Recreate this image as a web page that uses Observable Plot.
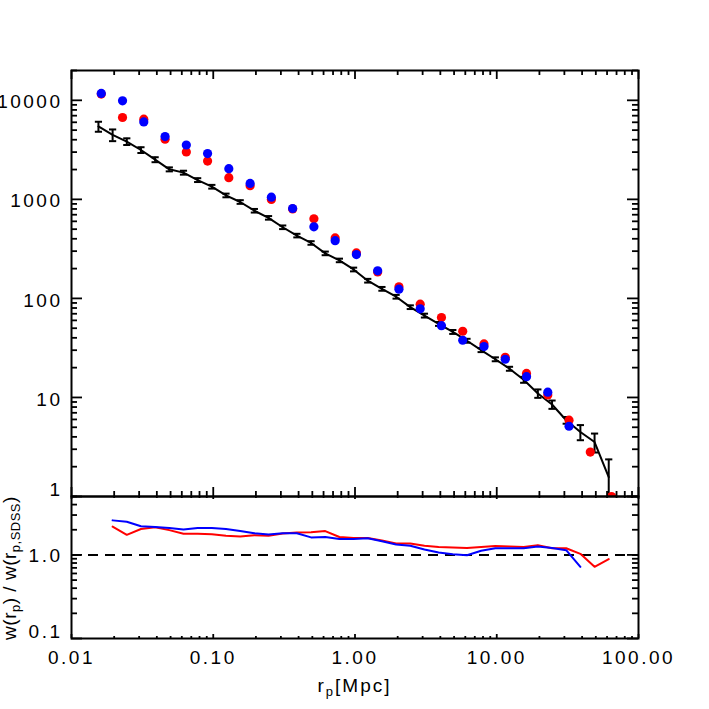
<!DOCTYPE html>
<html>
<head>
<meta charset="utf-8">
<script src="https://cdn.jsdelivr.net/npm/d3@7"></script>
<script src="https://cdn.jsdelivr.net/npm/@observablehq/plot@0.6"></script>
<style>
  html, body { margin: 0; padding: 0; background: white; }
  #wrap { position: relative; width: 709px; height: 709px; overflow: hidden; font-family: "Liberation Sans", Arial, sans-serif; }
  #wrap svg { position: absolute; left: 0; }
  #wrap svg text { letter-spacing: 2.5px; }
  .lab { position: absolute; font-size: 19px; line-height: 20px; white-space: nowrap; color: black; }
  .lab .s { font-size: 13px; position: relative; top: 4px; }
</style>
</head>
<body>
<div id="wrap"></div>
<script>
// ---- data ----
// SDSS reference w_p(r_p): black line with error bars
const rpSDSS = [0.01549, 0.01950, 0.02455, 0.03090, 0.03890, 0.04898, 0.06166, 0.07762, 0.09772,
  0.1230, 0.1549, 0.1950, 0.2455, 0.3090, 0.3890, 0.4898, 0.6166, 0.7762, 0.9772,
  1.230, 1.549, 1.950, 2.455, 3.090, 3.890, 4.898, 6.166, 7.762, 9.772,
  12.30, 15.49, 19.50, 24.55, 30.90, 38.90, 48.98, 61.66];
const wpSDSS = [5445, 4475, 3835, 3150, 2518, 2010, 1861, 1566, 1342,
  1096, 941, 768, 651, 523, 431, 363, 285, 242, 196,
  151, 125, 104, 81.6, 67.1, 55.3, 45.9, 37.4, 30.1, 24.3,
  19.5, 15.1, 10.98, 8.49, 5.89, 4.48, 3.55, 1.57];
const errSDSS = [630, 605, 298, 210, 145, 93, 85, 70, 58,
  47, 40, 32, 27, 22, 18, 15, 12, 10, 8.5,
  6.5, 5.5, 4.5, 3.5, 3.0, 2.5, 2.1, 1.7, 1.4, 1.1,
  0.9, 1.04, 1.07, 0.82, 0.46, 0.78, 0.77, 0.8];

// model samples (red and blue dots)
const rpModel = [0.01622, 0.02291, 0.03236, 0.04571, 0.06457, 0.09120, 0.1288, 0.1820, 0.2570,
  0.3631, 0.5129, 0.7244, 1.023, 1.445, 2.042, 2.884, 4.074, 5.754, 8.128,
  11.48, 16.22, 22.91, 32.36, 45.71, 64.57];
const wpRed = [11560, 6710, 6450, 4045, 3007, 2438, 1656, 1374, 997,
  800, 636, 408, 288, 185, 131, 87.5, 64.1, 46.6, 34.7,
  25.4, 17.5, 10.6, 5.89, 2.81, 1.0];
const wpBlue = [11750, 9885, 6055, 4306, 3540, 2897, 2042, 1449, 1052,
  809, 528, 383, 277, 190, 124, 78.5, 53.1, 37.8, 32.6,
  24.3, 16.2, 11.3, 5.12];

// ratio w(r_p)/w(r_p,SDSS) sampled at rpSDSS (starting at the 2nd bin)
const ratioRed = [2.18, 1.74, 2.04, 2.14, 1.98, 1.79, 1.79, 1.77,
  1.70, 1.66, 1.72, 1.69, 1.80, 1.86, 1.87, 1.93, 1.64, 1.59,
  1.59, 1.49, 1.37, 1.37, 1.29, 1.24, 1.23, 1.21, 1.24, 1.28,
  1.26, 1.24, 1.31, 1.20, 1.20, 1.03, 0.72, 0.89];
const ratioBlue = [2.59, 2.49, 2.20, 2.16, 2.10, 2.02, 2.10, 2.10,
  2.04, 1.93, 1.82, 1.75, 1.82, 1.82, 1.62, 1.64, 1.55, 1.55,
  1.58, 1.46, 1.33, 1.29, 1.16, 1.07, 1.02, 0.99, 1.12, 1.20,
  1.20, 1.20, 1.26, 1.21, 1.14, 0.72];

// tick labels
const xTickVals = [0.01, 0.1, 1, 10, 100];
const xTickText = ["0.01", "0.10", "1.00", "10.00", "100.00"];
const yTopVals = [10, 100, 1000, 10000];
const yTopText = ["10", "100", "1000", "10000"];
const yTopBottomVal = [1];
const yTopBottomText = ["1"];
const yBotVals = [1];
const yBotText = ["1.0"];
const yBotBottomVal = [0.1];
const yBotBottomText = ["0.1"];

// ---- build tables ----
const sdss = rpSDSS.map((x, i) => ({x, y: wpSDSS[i], e: errSDSS[i]}));
const red = wpRed.map((y, i) => ({x: rpModel[i], y}));
const blue = wpBlue.map((y, i) => ({x: rpModel[i], y}));
const rRed = ratioRed.map((y, i) => ({x: rpSDSS[i + 1], y}));
const rBlue = ratioBlue.map((y, i) => ({x: rpSDSS[i + 1], y}));

// tick positions (axis decoration)
const minorOf = (decades, max) => decades.flatMap(d => d3.range(2, 10).map(k => k * d)).filter(v => v <= max * 1.0001);
const xMajor = xTickVals;
const xMinor = minorOf([0.01, 0.1, 1, 10], 100);
const yTopMajor = [1, 10, 100, 1000, 10000];
const yTopMinor = minorOf([1, 10, 100, 1000, 10000], 20000);
const yBotMajor = [0.1, 1];
const yBotMinor = minorOf([0.1, 1], 5);

const W = 709, ML = 71, MR = 71;
const PW = W - ML - MR;
const FONT = "Liberation Sans, Arial, sans-serif";
const hbar = { draw(ctx, size) { const r = Math.sqrt(size / Math.PI); ctx.moveTo(-r, 0); ctx.lineTo(r, 0); } };

function yTicks(major, minor, majLen, minLen) {
  return [
    Plot.ruleY(major, {y: d => d, insetRight: PW - majLen, strokeWidth: 1.8}),
    Plot.ruleY(minor, {y: d => d, insetRight: PW - minLen, strokeWidth: 1.8}),
    Plot.ruleY(major, {y: d => d, insetLeft: PW - majLen, strokeWidth: 1.8}),
    Plot.ruleY(minor, {y: d => d, insetLeft: PW - minLen, strokeWidth: 1.8})
  ];
}
function xTicks(PH, majTop, minTop, majBot, minBot) {
  return [
    Plot.ruleX(xMajor, {x: d => d, insetBottom: PH - majTop, strokeWidth: 1.8}),
    Plot.ruleX(xMinor, {x: d => d, insetBottom: PH - minTop, strokeWidth: 1.8}),
    Plot.ruleX(xMajor, {x: d => d, insetTop: PH - majBot, strokeWidth: 1.8}),
    Plot.ruleX(xMinor, {x: d => d, insetTop: PH - minBot, strokeWidth: 1.8})
  ];
}

// ---- top panel ----
const TOP_H = 496, TOP_MT = 70;
const topPlot = Plot.plot({
  width: W, height: TOP_H, marginLeft: ML, marginRight: MR, marginTop: TOP_MT, marginBottom: 0,
  style: {background: "transparent", overflow: "visible", fontFamily: FONT, fontSize: "19px"},
  x: {type: "log", domain: [0.01, 100], axis: null},
  y: {type: "log", domain: [1, 20000], axis: null},
  marks: [
    Plot.line(sdss, {x: "x", y: "y", stroke: "black", strokeWidth: 2, clip: true}),
    Plot.ruleX(sdss, {x: "x", y1: d => d.y - d.e, y2: d => d.y + d.e, stroke: "black", strokeWidth: 2, clip: true}),
    Plot.dot(sdss, {x: "x", y: d => d.y + d.e, symbol: hbar, r: 3.6, fill: "none", stroke: "black", strokeWidth: 2, clip: true}),
    Plot.dot(sdss, {x: "x", y: d => d.y - d.e, symbol: hbar, r: 3.6, fill: "none", stroke: "black", strokeWidth: 2, clip: true}),
    Plot.dot(red, {x: "x", y: "y", r: 4.6, fill: "#ff0000", clip: true}),
    Plot.dot(blue, {x: "x", y: "y", r: 4.6, fill: "#0000ff", clip: true}),
    ...yTicks(yTopMajor, yTopMinor, 11, 6),
    ...xTicks(TOP_H - TOP_MT, 9, 5, 9, 5),
    Plot.frame({stroke: "black", strokeWidth: 2}),
    Plot.text(yTopVals, {y: d => d, text: (d, i) => yTopText[i], frameAnchor: "left", textAnchor: "end", dx: -9, dy: 2, fontSize: 19, fill: "black"}),
    Plot.text(yTopBottomVal, {y: d => d, text: (d, i) => yTopBottomText[i], frameAnchor: "left", textAnchor: "end", dx: -9, dy: -7, fontSize: 19, fill: "black"})
  ]
});
topPlot.style.top = "0px";

// ---- bottom (ratio) panel ----
const BOT_H = 213, BOT_MB = 71;
const bottomPlot = Plot.plot({
  width: W, height: BOT_H, marginLeft: ML, marginRight: MR, marginTop: 0, marginBottom: BOT_MB,
  style: {background: "transparent", overflow: "visible", fontFamily: FONT, fontSize: "19px"},
  x: {type: "log", domain: [0.01, 100], axis: null},
  y: {type: "log", domain: [0.1, 5], axis: null},
  marks: [
    Plot.ruleY([1], {stroke: "black", strokeWidth: 2, strokeDasharray: "10,7"}),
    Plot.line(rRed, {x: "x", y: "y", stroke: "#ff0000", strokeWidth: 2, clip: true}),
    Plot.line(rBlue, {x: "x", y: "y", stroke: "#0000ff", strokeWidth: 2, clip: true}),
    ...yTicks(yBotMajor, yBotMinor, 11, 6),
    ...xTicks(BOT_H - BOT_MB, 3, 2, 4, 2),
    Plot.frame({stroke: "black", strokeWidth: 2}),
    Plot.text(yBotVals, {y: d => d, text: (d, i) => yBotText[i], frameAnchor: "left", textAnchor: "end", dx: -9, dy: 1, fontSize: 19, fill: "black"}),
    Plot.text(yBotBottomVal, {y: d => d, text: (d, i) => yBotBottomText[i], frameAnchor: "left", textAnchor: "end", dx: -9, dy: -7, fontSize: 19, fill: "black"}),
    Plot.text(xTickVals, {x: d => d, text: (d, i) => xTickText[i], frameAnchor: "bottom", dy: 25, fontSize: 19, fill: "black"})
  ]
});
bottomPlot.style.top = "496px";

const wrap = document.getElementById("wrap");
wrap.appendChild(topPlot);
wrap.appendChild(bottomPlot);

// axis titles
const xl = document.createElement("div");
xl.className = "lab";
xl.style.left = "0px"; xl.style.width = W + "px"; xl.style.textAlign = "center"; xl.style.top = "676px";
xl.style.letterSpacing = "2px";
xl.innerHTML = 'r<span class="s">p</span>[Mpc]';
wrap.appendChild(xl);

const yl = document.createElement("div");
yl.className = "lab";
yl.style.width = "220px"; yl.style.textAlign = "center";
yl.style.left = (10.5 - 110) + "px"; yl.style.top = (567 - 10) + "px";
yl.style.transform = "rotate(-90deg)";
yl.style.letterSpacing = "0.5px";
yl.innerHTML = 'w(r<span class="s">p</span>) / w(r<span class="s">p,SDSS</span>)';
wrap.appendChild(yl);
</script>
</body>
</html>
